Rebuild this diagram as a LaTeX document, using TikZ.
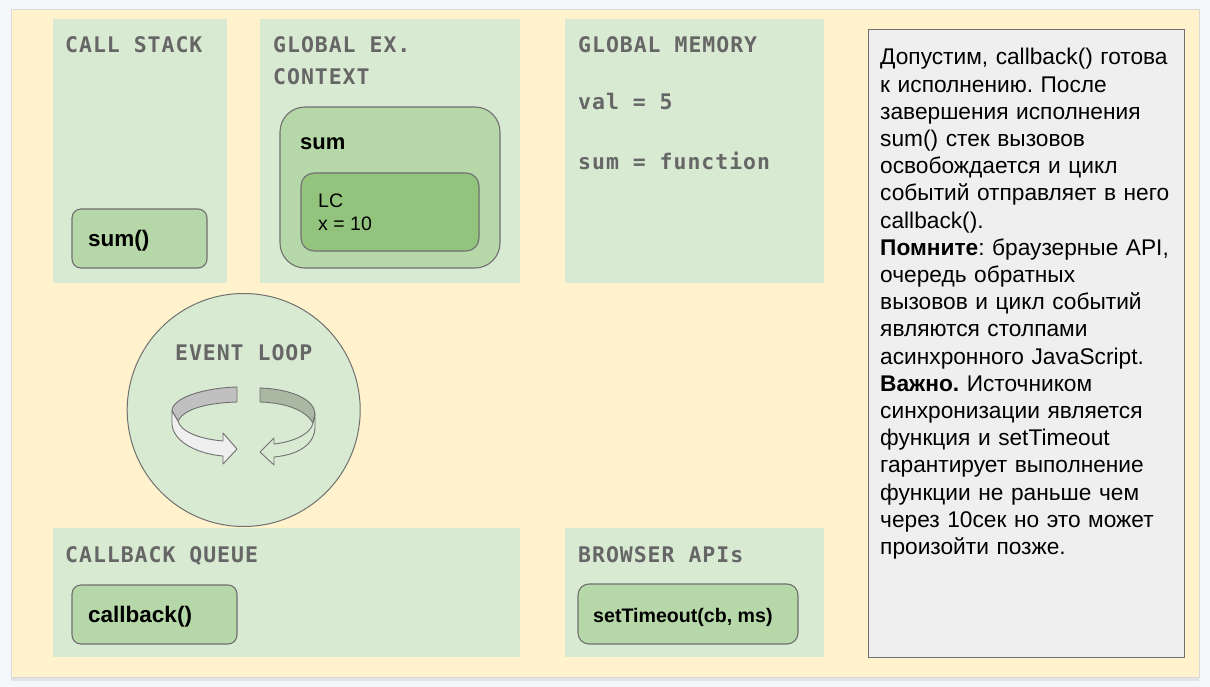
\documentclass[tikz,border=0pt]{standalone}
\usepackage{fontspec}
\setmainfont{Liberation Sans}
\newfontfamily\monof[LetterSpace=4.5]{DejaVu Sans Mono}
\frenchspacing
\definecolor{pagebg}{HTML}{F4F6F9}
\definecolor{cream}{HTML}{FFF2CC}
\definecolor{creamedge}{HTML}{D9D9D9}
\definecolor{panelg}{HTML}{D9EAD3}
\definecolor{boxg}{HTML}{B6D7A8}
\definecolor{innerg}{HTML}{93C47D}
\definecolor{headc}{HTML}{666666}
\definecolor{edgec}{HTML}{707070}
\definecolor{notebg}{HTML}{EFEFEF}
\definecolor{arrowA}{HTML}{C0C0C0}
\definecolor{arrowB}{HTML}{EFEFEF}
\definecolor{arrowC}{HTML}{AAB8A3}
\begin{document}
\begin{tikzpicture}[x=1pt,y=-1pt,
  panel/.style={fill=panelg, draw=none, inner sep=0pt, outer sep=0pt, anchor=north west},
  gbox/.style={fill=boxg, draw=edgec, line width=1.1pt, inner sep=0pt, outer sep=0pt, anchor=north west, rounded corners=9pt},
  lcbox/.style={fill=innerg, draw=edgec, line width=1.1pt, inner sep=0pt, outer sep=0pt, anchor=north west, rounded corners=13pt},
  head/.style={font=\monof\bfseries\fontsize{21.5}{26}\selectfont, text=headc, inner sep=0pt, anchor=base west},
  btxt/.style={font=\bfseries\fontsize{22.5}{27}\selectfont, text=black, inner sep=0pt, anchor=base west},
  stxt/.style={font=\fontsize{19.5}{23}\selectfont, text=black, inner sep=0pt, anchor=base west},
  ribbon/.style={draw=edgec, line width=0.9pt, line join=round}
]
\useasboundingbox (0,0) rectangle (1210,687);
\fill[pagebg] (0,0) rectangle (1210,687);
\fill[creamedge!70!pagebg] (11,676) rectangle (1199,681);
\node[fill=cream, draw=creamedge, line width=0.8pt, inner sep=0pt, outer sep=0pt, anchor=north west,
      minimum width=1188pt, minimum height=668pt] (page) at (11,9) {};

% panels
\node[panel, minimum width=174pt, minimum height=264pt] (callstack) at (53,19) {};
\node[panel, minimum width=260pt, minimum height=264pt] (gec) at (260,19) {};
\node[panel, minimum width=259pt, minimum height=264pt] (gmem) at (565,19) {};
\node[panel, minimum width=467pt, minimum height=129pt] (cbq) at (53,528) {};
\node[panel, minimum width=259pt, minimum height=129pt] (bapi) at (565,528) {};

% headings
\node[head] (hcs) at (65,53) {CALL STACK};
\node[head] (hgec1) at (273,53) {GLOBAL EX.};
\node[head] (hgec2) at (273,85) {CONTEXT};
\node[head] (hgm) at (578,53) {GLOBAL MEMORY};
\node[head] (mval) at (578,110) {val = 5};
\node[head] (msum) at (578,170) {sum = function};
\node[head] (hcbq) at (65,562) {CALLBACK QUEUE};
\node[head] (hba) at (578,562) {BROWSER APIs};

% call stack
\node[gbox, minimum width=135pt, minimum height=59pt] (sumcall) at (72,209) {};
\node[btxt] (sumcalltxt) at (88,247) {sum()};

% global execution context
\node[gbox, rounded corners=25pt, minimum width=220pt, minimum height=161pt] (sumctx) at (280,107) {};
\node[btxt, font=\bfseries\fontsize{22}{26}\selectfont] (sumctxtxt) at (300,150) {sum};
\node[lcbox, minimum width=178pt, minimum height=78pt] (lc) at (301,173) {};
\node[stxt] (lctxt) at (318,208) {LC};
\node[stxt] (xtxt) at (318,230) {x = 10};

% callback queue and browser APIs
\node[gbox, minimum width=165pt, minimum height=59pt] (cb) at (72,585) {};
\node[btxt] (cbtxt) at (88,622) {callback()};
\node[gbox, rounded corners=11pt, minimum width=220pt, minimum height=60pt] (st) at (578,584) {};
\node[btxt, font=\bfseries\fontsize{19.6}{24}\selectfont] (sttxt) at (593,622) {setTimeout(cb, ms)};

% event loop
\node[circle, fill=panelg, draw=edgec, line width=1pt, minimum size=233pt, inner sep=0pt] (loop) at (243.7,410) {};
\node[head, anchor=base] (hloop) at (243.7,360) {EVENT LOOP};

% left ribbon arrow
\filldraw[ribbon, fill=arrowA] (237,387) .. controls (203,388) and (172,398) .. (172,411)
  -- (178,421) .. controls (184,409) and (206,403) .. (237,402) -- cycle;
\filldraw[ribbon, fill=arrowB] (172,411) -- (172,424) .. controls (173,442) and (198,454) .. (223,456)
  -- (223,464) -- (237,449) -- (223,433) -- (223,441) .. controls (200,439) and (181,432) .. (178,421) -- cycle;

% right ribbon arrow
\filldraw[ribbon, fill=arrowC] (260,388) .. controls (292,389) and (315,400) .. (315,414)
  -- (313,423) .. controls (306,411) and (288,403) .. (260,402) -- cycle;
\filldraw[ribbon, fill=panelg] (315,414) -- (315,428) .. controls (314,446) and (296,455) .. (274,457)
  -- (274,465) -- (260,452) -- (274,438) -- (274,444) .. controls (293,442) and (311,434) .. (313,423) -- cycle;

% note
\node[fill=notebg, draw=edgec, line width=1pt, inner sep=0pt, outer sep=0pt, anchor=north west,
      minimum width=316pt, minimum height=627pt] (note) at (868,30) {};
\node[inner sep=0pt, anchor=base west, text width=330pt, align=left,
      font=\fontsize{22.7}{27.2}\selectfont] (notetxt) at (880,65) {%
Допустим, callback() готова\\
к исполнению. После\\
завершения исполнения\\
sum() стек вызовов\\
освобождается и цикл\\
событий отправляет в него\\
callback().\\
\textbf{Помните}: браузерные API,\\
очередь обратных\\
вызовов и цикл событий\\
являются столпами\\
асинхронного JavaScript.\\
\textbf{Важно.} Источником\\
синхронизации является\\
функция и setTimeout\\
гарантирует выполнение\\
функции не раньше чем\\
через 10сек но это может\\
произойти позже.};
\end{tikzpicture}
\end{document}
